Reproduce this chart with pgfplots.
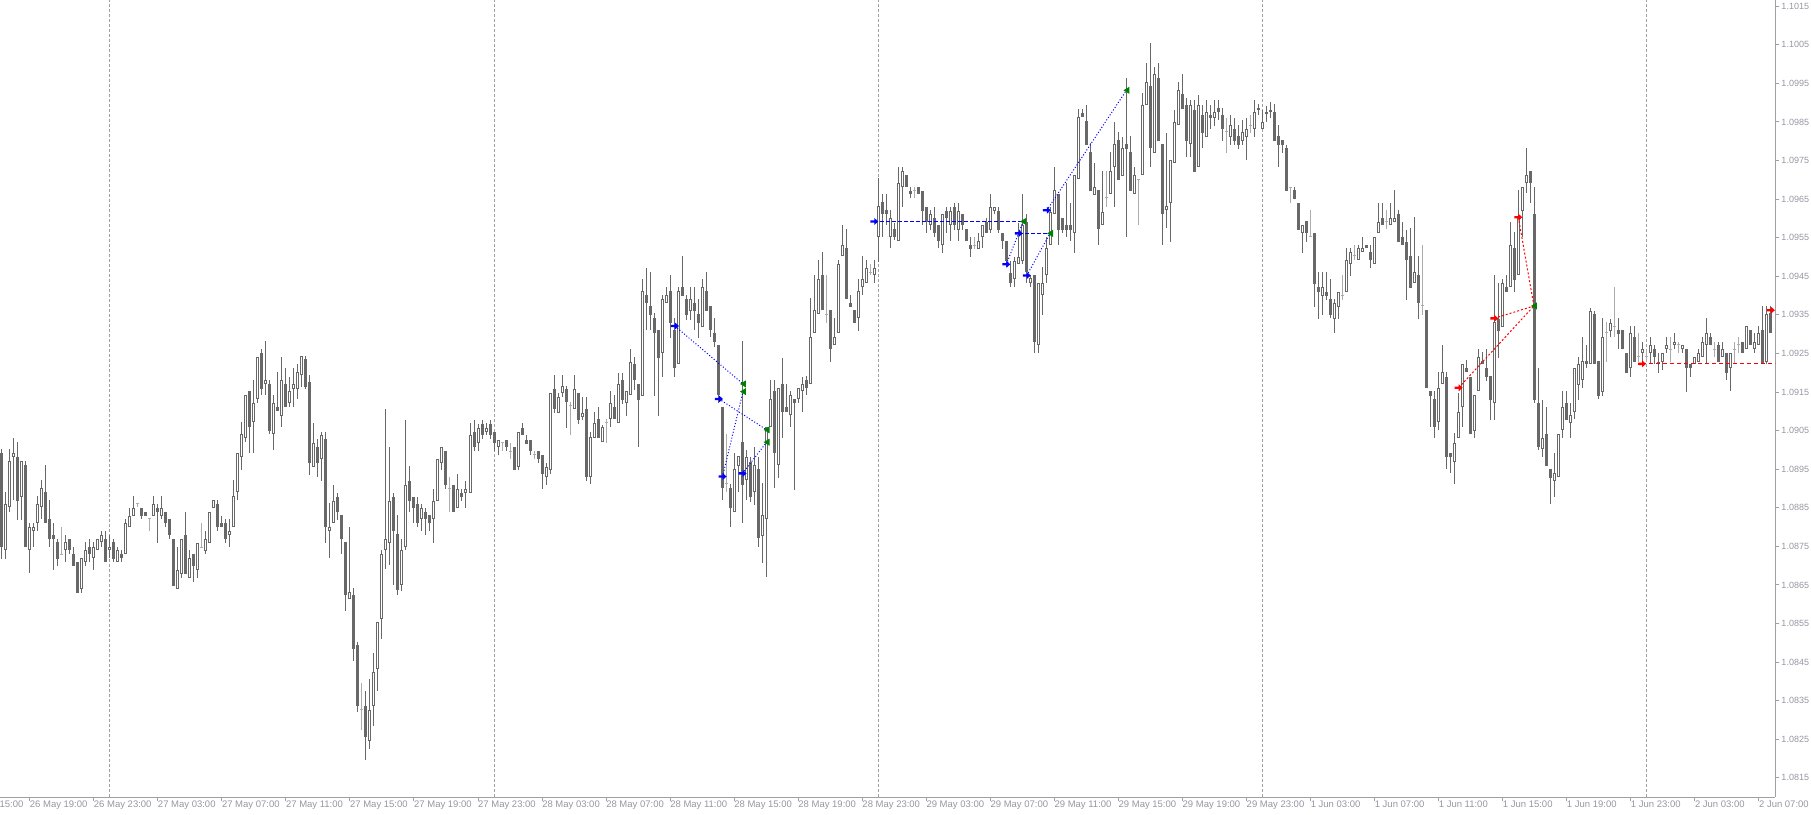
\documentclass[border=0pt]{standalone}
\usepackage{fontspec}
\setmainfont{Liberation Sans}
\usepackage{pgfplots}
\usepackage{pgfplotstable}
\pgfplotsset{compat=1.18}
\definecolor{cdark}{RGB}{104,104,104}
\definecolor{clight}{RGB}{172,172,172}
\definecolor{axgray}{RGB}{160,160,160}
\definecolor{lblgray}{RGB}{150,150,162}
\definecolor{mtblue}{RGB}{0,0,255}
\definecolor{mtgreen}{RGB}{0,128,0}
\definecolor{mtred}{RGB}{255,0,0}

\pgfdeclareplotmark{buyarrow}{%
  \pgfpathmoveto{\pgfpoint{-4pt}{1.2pt}}%
  \pgfpathlineto{\pgfpoint{0pt}{1.2pt}}%
  \pgfpathlineto{\pgfpoint{0pt}{3.5pt}}%
  \pgfpathlineto{\pgfpoint{4pt}{0pt}}%
  \pgfpathlineto{\pgfpoint{0pt}{-3.5pt}}%
  \pgfpathlineto{\pgfpoint{0pt}{-1.2pt}}%
  \pgfpathlineto{\pgfpoint{-4pt}{-1.2pt}}%
  \pgfpathclose\pgfusepathqfill}
\pgfdeclareplotmark{closetri}{%
  \pgfpathmoveto{\pgfpoint{-3pt}{0pt}}%
  \pgfpathlineto{\pgfpoint{3pt}{3.6pt}}%
  \pgfpathlineto{\pgfpoint{3pt}{-3.6pt}}%
  \pgfpathclose\pgfusepathqfill}

\pgfplotsset{
  candlebar/.style 2 args={draw=none, mark=none, forget plot,
    error bars/.cd, y dir=plus, y explicit, error mark=none,
    error bar style={solid, draw=#1, line width=#2}, /pgfplots/.cd},
}

\pgfplotstableread{
k t O H L C
0 -1 1.08992 1.09002 1.08717 1.08748
1 1 1.08741 1.08891 1.08717 1.08860
2 1 1.08852 1.09002 1.08839 1.08971
3 1 1.08982 1.09031 1.08870 1.08992
4 -1 1.08982 1.09020 1.08818 1.08868
5 1 1.08878 1.08971 1.08818 1.08971
6 -1 1.08961 1.08971 1.08748 1.08748
7 1 1.08741 1.08811 1.08681 1.08800
8 1 1.08790 1.08811 1.08748 1.08800
9 1 1.08811 1.08881 1.08790 1.08860
10 1 1.08852 1.08922 1.08821 1.08901
11 -1 1.08891 1.08961 1.08811 1.08811
12 -1 1.08821 1.08870 1.08748 1.08769
13 -1 1.08779 1.08811 1.08689 1.08769
14 -1 1.08761 1.08769 1.08699 1.08717
15 0 1.08730 1.08800 1.08730 1.08730
16 1 1.08741 1.08779 1.08709 1.08761
17 -1 1.08769 1.08769 1.08730 1.08741
18 -1 1.08730 1.08748 1.08699 1.08699
19 -1 1.08709 1.08709 1.08629 1.08629
20 1 1.08639 1.08720 1.08629 1.08720
21 1 1.08709 1.08761 1.08699 1.08741
22 -1 1.08748 1.08769 1.08709 1.08730
23 1 1.08720 1.08761 1.08689 1.08748
24 1 1.08741 1.08769 1.08741 1.08769
25 1 1.08761 1.08790 1.08748 1.08779
26 -1 1.08769 1.08790 1.08709 1.08709
27 1 1.08741 1.08779 1.08720 1.08748
28 -1 1.08761 1.08769 1.08709 1.08717
29 1 1.08709 1.08748 1.08709 1.08741
30 -1 1.08730 1.08741 1.08709 1.08720
31 1 1.08730 1.08821 1.08730 1.08811
32 1 1.08800 1.08849 1.08800 1.08829
33 1 1.08829 1.08881 1.08829 1.08849
34 0 1.08860 1.08860 1.08852 1.08860
35 -1 1.08849 1.08849 1.08821 1.08829
36 -1 1.08839 1.08839 1.08829 1.08829
37 0 1.08821 1.08821 1.08790 1.08821
38 1 1.08829 1.08881 1.08829 1.08860
39 -1 1.08849 1.08860 1.08759 1.08839
40 1 1.08829 1.08881 1.08821 1.08849
41 -1 1.08839 1.08839 1.08800 1.08811
42 -1 1.08821 1.08821 1.08769 1.08779
43 -1 1.08769 1.08769 1.08647 1.08647
44 1 1.08639 1.08748 1.08639 1.08689
45 1 1.08678 1.08769 1.08668 1.08769
46 -1 1.08779 1.08839 1.08678 1.08678
47 1 1.08668 1.08741 1.08668 1.08720
48 -1 1.08730 1.08730 1.08658 1.08699
49 1 1.08689 1.08759 1.08668 1.08759
50 0 1.08748 1.08811 1.08748 1.08748
51 1 1.08738 1.08790 1.08730 1.08769
52 1 1.08759 1.08839 1.08759 1.08839
53 1 1.08849 1.08870 1.08849 1.08870
54 -1 1.08860 1.08870 1.08790 1.08800
55 -1 1.08811 1.08829 1.08800 1.08800
56 -1 1.08811 1.08821 1.08759 1.08769
57 1 1.08779 1.08821 1.08748 1.08790
58 1 1.08800 1.08922 1.08800 1.08881
59 1 1.08891 1.08992 1.08870 1.08992
60 1 1.08982 1.09072 1.08948 1.09041
61 1 1.09031 1.09142 1.09020 1.09142
62 -1 1.09153 1.09153 1.08992 1.09059
63 1 1.09072 1.09181 1.08992 1.09122
64 1 1.09132 1.09241 1.09122 1.09241
65 -1 1.09251 1.09261 1.09142 1.09158
66 1 1.09171 1.09282 1.09142 1.09181
67 -1 1.09171 1.09181 1.09041 1.09049
68 1 1.09041 1.09142 1.09000 1.09122
69 -1 1.09111 1.09202 1.09101 1.09101
70 1 1.09088 1.09241 1.09059 1.09181
71 -1 1.09171 1.09212 1.09111 1.09111
72 1 1.09122 1.09189 1.09111 1.09153
73 1 1.09158 1.09212 1.09111 1.09171
74 1 1.09158 1.09223 1.09132 1.09202
75 1 1.09194 1.09243 1.09163 1.09243
76 -1 1.09236 1.09243 1.09158 1.09163
77 -1 1.09176 1.09194 1.08935 1.08966
78 1 1.08956 1.09070 1.08956 1.09018
79 -1 1.09008 1.09028 1.08930 1.08966
80 1 1.08976 1.09046 1.08919 1.09039
81 -1 1.09028 1.09046 1.08759 1.08800
82 1 1.08790 1.08862 1.08720 1.08800
83 1 1.08811 1.08909 1.08811 1.08868
84 -1 1.08878 1.08888 1.08818 1.08839
85 -1 1.08831 1.08831 1.08730 1.08769
86 -1 1.08761 1.08761 1.08582 1.08624
87 1 1.08614 1.08800 1.08614 1.08632
88 -1 1.08624 1.08642 1.08453 1.08484
89 -1 1.08494 1.08502 1.08321 1.08336
90 0 1.08326 1.08396 1.08274 1.08326
91 -1 1.08336 1.08375 1.08196 1.08256
92 1 1.08246 1.08406 1.08225 1.08326
93 1 1.08336 1.08474 1.08284 1.08424
94 1 1.08432 1.08554 1.08375 1.08554
95 1 1.08562 1.08741 1.08510 1.08730
96 1 1.08741 1.09106 1.08691 1.08769
97 1 1.08759 1.09008 1.08702 1.08868
98 -1 1.08878 1.08888 1.08650 1.08790
99 -1 1.08782 1.08831 1.08624 1.08637
100 1 1.08650 1.08769 1.08634 1.08741
101 1 1.08748 1.09077 1.08741 1.08909
102 -1 1.08919 1.08958 1.08839 1.08868
103 -1 1.08878 1.08878 1.08811 1.08849
104 -1 1.08860 1.08878 1.08800 1.08811
105 1 1.08821 1.08860 1.08790 1.08849
106 -1 1.08839 1.08849 1.08779 1.08821
107 -1 1.08831 1.08831 1.08790 1.08811
108 1 1.08821 1.08899 1.08759 1.08868
109 1 1.08868 1.08976 1.08868 1.08976
110 1 1.08966 1.09008 1.08948 1.09008
111 -1 1.08997 1.08997 1.08899 1.08909
112 0 1.08899 1.08930 1.08839 1.08899
113 -1 1.08909 1.08909 1.08839 1.08839
114 1 1.08849 1.08938 1.08849 1.08899
115 -1 1.08888 1.08899 1.08868 1.08878
116 1 1.08888 1.08919 1.08849 1.08899
117 1 1.08888 1.09070 1.08888 1.09039
118 -1 1.09046 1.09077 1.08997 1.09008
119 1 1.09018 1.09067 1.08997 1.09057
120 -1 1.09067 1.09077 1.09028 1.09039
121 1 1.09046 1.09070 1.09039 1.09057
122 -1 1.09067 1.09077 1.09028 1.09039
123 -1 1.09046 1.09046 1.08997 1.09018
124 1 1.09008 1.09026 1.08987 1.09026
125 0 1.09018 1.09018 1.08997 1.09018
126 -1 1.09026 1.09026 1.08997 1.09008
127 0 1.08997 1.09018 1.08976 1.08997
128 -1 1.09008 1.09008 1.08948 1.08948
129 1 1.08956 1.09046 1.08948 1.09046
130 -1 1.09057 1.09070 1.09039 1.09039
131 -1 1.09026 1.09039 1.09015 1.09015
132 -1 1.09026 1.09026 1.08987 1.08997
133 0 1.08987 1.08997 1.08976 1.08987
134 -1 1.08997 1.08997 1.08966 1.08976
135 -1 1.08987 1.08987 1.08899 1.08938
136 1 1.08930 1.08966 1.08909 1.08956
137 1 1.08948 1.09147 1.08938 1.09147
138 -1 1.09158 1.09194 1.09096 1.09106
139 1 1.09096 1.09147 1.09096 1.09137
140 1 1.09147 1.09194 1.09137 1.09166
141 -1 1.09158 1.09166 1.09057 1.09124
142 0 1.09116 1.09124 1.09039 1.09116
143 1 1.09106 1.09194 1.09106 1.09158
144 -1 1.09147 1.09147 1.09067 1.09077
145 1 1.09085 1.09137 1.09077 1.09096
146 -1 1.09106 1.09137 1.08919 1.08930
147 1 1.08930 1.09046 1.08912 1.09033
148 1 1.09031 1.09098 1.09031 1.09070
149 -1 1.09080 1.09111 1.09031 1.09031
150 1 1.09020 1.09065 1.09020 1.09059
151 0 1.09070 1.09080 1.09018 1.09070
152 1 1.09080 1.09153 1.09059 1.09122
153 -1 1.09111 1.09142 1.09080 1.09080
154 1 1.09070 1.09199 1.09070 1.09171
155 -1 1.09181 1.09199 1.09119 1.09129
156 1 1.09122 1.09153 1.09088 1.09153
157 1 1.09142 1.09261 1.09142 1.09228
158 -1 1.09223 1.09241 1.09155 1.09181
159 -1 1.09171 1.09171 1.09008 1.09129
160 1 1.09140 1.09443 1.09140 1.09412
161 -1 1.09401 1.09471 1.09311 1.09381
162 -1 1.09373 1.09461 1.09311 1.09350
163 -1 1.09342 1.09355 1.09140 1.09303
164 -1 1.09311 1.09311 1.09088 1.09238
165 1 1.09251 1.09401 1.09189 1.09391
166 1 1.09381 1.09422 1.09381 1.09401
167 -1 1.09412 1.09453 1.09290 1.09329
168 -1 1.09311 1.09342 1.09189 1.09212
169 1 1.09223 1.09422 1.09223 1.09412
170 -1 1.09422 1.09503 1.09399 1.09399
171 -1 1.09391 1.09401 1.09337 1.09350
172 1 1.09360 1.09422 1.09337 1.09391
173 -1 1.09381 1.09422 1.09311 1.09360
174 -1 1.09352 1.09391 1.09290 1.09329
175 1 1.09319 1.09443 1.09319 1.09422
176 -1 1.09412 1.09461 1.09360 1.09360
177 -1 1.09373 1.09373 1.09293 1.09311
178 -1 1.09303 1.09342 1.09267 1.09280
179 -1 1.09272 1.09272 1.09122 1.09142
180 -1 1.09111 1.09111 1.08870 1.08901
181 0 1.08912 1.09041 1.08891 1.08912
182 -1 1.08901 1.08912 1.08800 1.08849
183 1 1.08839 1.08992 1.08839 1.08950
184 1 1.08958 1.08984 1.08891 1.08984
185 -1 1.09020 1.09282 1.08811 1.08909
186 1 1.08922 1.09000 1.08870 1.08982
187 -1 1.08969 1.08982 1.08865 1.08878
188 1 1.08891 1.09008 1.08857 1.08961
189 -1 1.08950 1.08982 1.08748 1.08772
190 1 1.08777 1.08914 1.08707 1.08831
191 1 1.08821 1.09059 1.08671 1.09059
192 1 1.09059 1.09181 1.09059 1.09132
193 -1 1.09153 1.09181 1.08901 1.08992
194 1 1.08961 1.09160 1.08927 1.09160
195 -1 1.09171 1.09238 1.09031 1.09098
196 -1 1.09111 1.09171 1.09098 1.09098
197 1 1.09090 1.09153 1.09059 1.09142
198 -1 1.09132 1.09132 1.08896 1.09122
199 1 1.09132 1.09160 1.09122 1.09160
200 1 1.09153 1.09189 1.09098 1.09171
201 -1 1.09181 1.09192 1.09142 1.09160
202 1 1.09171 1.09394 1.09171 1.09293
203 1 1.09303 1.09453 1.09303 1.09363
204 1 1.09352 1.09492 1.09352 1.09443
205 -1 1.09453 1.09513 1.09363 1.09363
206 0 1.09352 1.09453 1.09329 1.09352
207 -1 1.09363 1.09363 1.09228 1.09261
208 1 1.09272 1.09342 1.09272 1.09293
209 1 1.09303 1.09492 1.09303 1.09482
210 1 1.09503 1.09583 1.09503 1.09531
211 -1 1.09523 1.09572 1.09391 1.09391
212 -1 1.09381 1.09401 1.09370 1.09370
213 -1 1.09363 1.09363 1.09329 1.09329
214 1 1.09342 1.09443 1.09308 1.09412
215 1 1.09422 1.09503 1.09401 1.09443
216 1 1.09433 1.09492 1.09433 1.09471
217 0 1.09461 1.09482 1.09453 1.09461
218 1 1.09453 1.09492 1.09433 1.09471
219 1 1.09552 1.09705 1.09487 1.09632
220 -1 1.09642 1.09663 1.09552 1.09611
221 -1 1.09622 1.09663 1.09583 1.09611
222 1 1.09552 1.09622 1.09523 1.09601
223 -1 1.09572 1.09588 1.09544 1.09552
224 1 1.09541 1.09733 1.09541 1.09692
225 1 1.09681 1.09733 1.09630 1.09723
226 -1 1.09712 1.09712 1.09681 1.09681
227 -1 1.09671 1.09681 1.09653 1.09663
228 0 1.09671 1.09681 1.09653 1.09671
229 -1 1.09681 1.09681 1.09663 1.09663
230 -1 1.09671 1.09671 1.09583 1.09619
231 -1 1.09630 1.09630 1.09562 1.09591
232 1 1.09583 1.09622 1.09570 1.09611
233 -1 1.09601 1.09630 1.09552 1.09562
234 -1 1.09583 1.09583 1.09523 1.09541
235 1 1.09531 1.09611 1.09510 1.09611
236 -1 1.09619 1.09630 1.09562 1.09601
237 1 1.09583 1.09630 1.09541 1.09619
238 -1 1.09630 1.09640 1.09570 1.09583
239 1 1.09570 1.09640 1.09541 1.09619
240 -1 1.09611 1.09611 1.09570 1.09583
241 -1 1.09572 1.09572 1.09541 1.09541
242 -1 1.09531 1.09552 1.09500 1.09521
243 0 1.09531 1.09552 1.09521 1.09531
244 1 1.09521 1.09562 1.09521 1.09541
245 1 1.09552 1.09583 1.09523 1.09583
246 -1 1.09591 1.09601 1.09562 1.09562
247 1 1.09570 1.09663 1.09562 1.09630
248 1 1.09619 1.09630 1.09611 1.09630
249 -1 1.09619 1.09630 1.09562 1.09570
250 -1 1.09562 1.09562 1.09521 1.09541
251 -1 1.09541 1.09541 1.09474 1.09490
252 -1 1.09458 1.09490 1.09422 1.09433
253 1 1.09443 1.09500 1.09422 1.09490
254 1 1.09482 1.09588 1.09482 1.09500
255 1 1.09490 1.09663 1.09482 1.09583
256 -1 1.09591 1.09611 1.09433 1.09461
257 1 1.09433 1.09453 1.09422 1.09446
258 -1 1.09453 1.09453 1.09251 1.09280
259 1 1.09272 1.09433 1.09251 1.09433
260 1 1.09401 1.09474 1.09350 1.09433
261 1 1.09453 1.09552 1.09433 1.09523
262 1 1.09531 1.09630 1.09531 1.09617
263 1 1.09611 1.09733 1.09611 1.09674
264 -1 1.09663 1.09663 1.09531 1.09570
265 -1 1.09601 1.09601 1.09562 1.09570
266 -1 1.09583 1.09692 1.09552 1.09570
267 -1 1.09583 1.09640 1.09541 1.09570
268 1 1.09562 1.09712 1.09510 1.09712
269 1 1.09702 1.09884 1.09702 1.09863
270 -1 1.09873 1.09884 1.09863 1.09863
271 -1 1.09852 1.09894 1.09790 1.09790
272 -1 1.09772 1.09795 1.09671 1.09671
273 1 1.09661 1.09744 1.09661 1.09681
274 -1 1.09674 1.09674 1.09531 1.09572
275 1 1.09583 1.09723 1.09583 1.09617
276 0 1.09653 1.09723 1.09630 1.09653
277 1 1.09663 1.09772 1.09663 1.09723
278 1 1.09733 1.09850 1.09630 1.09793
279 -1 1.09803 1.09824 1.09699 1.09699
280 1 1.09710 1.09811 1.09710 1.09782
281 -1 1.09793 1.09964 1.09552 1.09780
282 -1 1.09772 1.09814 1.09671 1.09671
283 1 1.09663 1.09733 1.09663 1.09712
284 0 1.09702 1.09702 1.09583 1.09702
285 1 1.09712 1.09925 1.09712 1.09894
286 1 1.09894 1.10003 1.09894 1.09953
287 -1 1.09943 1.10055 1.09733 1.09782
288 1 1.09769 1.09992 1.09769 1.09974
289 -1 1.09964 1.10003 1.09801 1.09801
290 -1 1.09793 1.09793 1.09531 1.09611
291 1 1.09622 1.09821 1.09575 1.09632
292 1 1.09640 1.09751 1.09539 1.09751
293 1 1.09744 1.09881 1.09744 1.09850
294 1 1.09842 1.09953 1.09842 1.09933
295 -1 1.09922 1.09974 1.09884 1.09884
296 -1 1.09894 1.09912 1.09759 1.09801
297 1 1.09793 1.09907 1.09759 1.09894
298 -1 1.09881 1.09907 1.09720 1.09720
299 1 1.09733 1.09920 1.09733 1.09894
300 -1 1.09868 1.09894 1.09782 1.09821
301 1 1.09811 1.09907 1.09811 1.09876
302 -1 1.09868 1.09894 1.09832 1.09860
303 1 1.09860 1.09907 1.09839 1.09876
304 -1 1.09886 1.09907 1.09855 1.09876
305 -1 1.09868 1.09886 1.09801 1.09832
306 0 1.09824 1.09860 1.09769 1.09824
307 1 1.09811 1.09868 1.09790 1.09842
308 -1 1.09832 1.09860 1.09790 1.09801
309 -1 1.09814 1.09842 1.09780 1.09790
310 1 1.09801 1.09855 1.09790 1.09824
311 1 1.09811 1.09860 1.09751 1.09832
312 0 1.09842 1.09868 1.09821 1.09842
313 1 1.09832 1.09907 1.09811 1.09876
314 1 1.09881 1.09896 1.09868 1.09886
315 1 1.09832 1.09881 1.09832 1.09850
316 -1 1.09876 1.09891 1.09850 1.09871
317 -1 1.09881 1.09902 1.09860 1.09876
318 -1 1.09876 1.09896 1.09801 1.09801
319 -1 1.09814 1.09842 1.09733 1.09790
320 -1 1.09803 1.09803 1.09769 1.09790
321 -1 1.09782 1.09790 1.09671 1.09671
322 0 1.09679 1.09679 1.09640 1.09679
323 -1 1.09674 1.09681 1.09650 1.09650
324 -1 1.09640 1.09640 1.09570 1.09570
325 1 1.09562 1.09583 1.09510 1.09583
326 -1 1.09593 1.09593 1.09539 1.09562
327 0 1.09552 1.09622 1.09552 1.09552
328 -1 1.09562 1.09562 1.09370 1.09430
329 -1 1.09422 1.09461 1.09339 1.09409
330 1 1.09399 1.09461 1.09350 1.09422
331 -1 1.09409 1.09461 1.09388 1.09399
332 -1 1.09391 1.09443 1.09342 1.09350
333 1 1.09339 1.09391 1.09303 1.09381
334 1 1.09370 1.09409 1.09339 1.09409
335 0 1.09401 1.09453 1.09388 1.09401
336 1 1.09409 1.09523 1.09409 1.09492
337 1 1.09482 1.09523 1.09451 1.09513
338 0 1.09503 1.09531 1.09492 1.09503
339 1 1.09492 1.09531 1.09492 1.09523
340 1 1.09513 1.09552 1.09513 1.09523
341 -1 1.09531 1.09531 1.09523 1.09523
342 -1 1.09513 1.09531 1.09471 1.09492
343 1 1.09482 1.09552 1.09482 1.09552
344 1 1.09562 1.09640 1.09562 1.09591
345 -1 1.09601 1.09640 1.09583 1.09583
346 0 1.09591 1.09622 1.09572 1.09591
347 1 1.09583 1.09640 1.09583 1.09601
348 1 1.09591 1.09674 1.09591 1.09601
349 -1 1.09611 1.09622 1.09539 1.09539
350 -1 1.09552 1.09591 1.09531 1.09531
351 -1 1.09539 1.09570 1.09388 1.09492
352 -1 1.09503 1.09575 1.09420 1.09420
353 1 1.09433 1.09604 1.09433 1.09461
354 -1 1.09453 1.09503 1.09339 1.09381
355 0 1.09373 1.09531 1.09350 1.09373
356 -1 1.09363 1.09363 1.09160 1.09160
357 -1 1.09153 1.09153 1.09059 1.09140
358 -1 1.09132 1.09153 1.09031 1.09059
359 1 1.09072 1.09202 1.09052 1.09160
360 1 1.09171 1.09272 1.09171 1.09202
361 -1 1.09189 1.09202 1.08950 1.08982
362 -1 1.08992 1.08992 1.08940 1.08982
363 1 1.08969 1.09044 1.08912 1.09018
364 1 1.09031 1.09147 1.09031 1.09098
365 1 1.09111 1.09223 1.09059 1.09223
366 -1 1.09212 1.09233 1.09202 1.09202
367 -1 1.09189 1.09189 1.09041 1.09041
368 1 1.09049 1.09142 1.09031 1.09142
369 1 1.09153 1.09261 1.09153 1.09241
370 -1 1.09230 1.09254 1.09223 1.09223
371 -1 1.09212 1.09261 1.09179 1.09189
372 -1 1.09192 1.09192 1.09077 1.09129
373 1 1.09122 1.09453 1.09077 1.09331
374 -1 1.09339 1.09433 1.09238 1.09308
375 1 1.09319 1.09443 1.09319 1.09433
376 -1 1.09422 1.09453 1.09409 1.09409
377 1 1.09422 1.09591 1.09422 1.09531
378 -1 1.09523 1.09565 1.09409 1.09440
379 1 1.09453 1.09674 1.09453 1.09601
380 1 1.09619 1.09681 1.09552 1.09681
381 1 1.09692 1.09782 1.09666 1.09712
382 -1 1.09723 1.09723 1.09640 1.09692
383 -1 1.09611 1.09681 1.09122 1.09129
384 -1 1.09122 1.09212 1.09000 1.09008
385 1 1.09002 1.09129 1.08982 1.09031
386 -1 1.09041 1.09111 1.08958 1.08958
387 -1 1.08950 1.08950 1.08860 1.08927
388 1 1.08919 1.08992 1.08878 1.08940
389 1 1.08930 1.09041 1.08930 1.09041
390 1 1.09052 1.09153 1.09031 1.09111
391 -1 1.09122 1.09153 1.09077 1.09077
392 1 1.09070 1.09122 1.09031 1.09090
393 1 1.09098 1.09212 1.09080 1.09212
394 1 1.09168 1.09241 1.09129 1.09223
395 1 1.09181 1.09293 1.09160 1.09230
396 -1 1.09230 1.09272 1.09212 1.09223
397 1 1.09223 1.09368 1.09223 1.09360
398 -1 1.09352 1.09360 1.09223 1.09223
399 -1 1.09230 1.09230 1.09132 1.09140
400 1 1.09150 1.09342 1.09140 1.09293
401 0 1.09303 1.09331 1.09228 1.09303
402 1 1.09308 1.09339 1.09293 1.09329
403 0 1.09321 1.09422 1.09293 1.09321
404 -1 1.09311 1.09342 1.09261 1.09300
405 -1 1.09311 1.09311 1.09261 1.09261
406 -1 1.09251 1.09251 1.09199 1.09199
407 1 1.09212 1.09321 1.09189 1.09303
408 -1 1.09293 1.09321 1.09228 1.09228
409 0 1.09241 1.09303 1.09228 1.09241
410 1 1.09251 1.09280 1.09228 1.09261
411 0 1.09241 1.09259 1.09228 1.09241
412 1 1.09251 1.09293 1.09223 1.09272
413 -1 1.09261 1.09272 1.09223 1.09241
414 -1 1.09228 1.09251 1.09199 1.09223
415 1 1.09228 1.09251 1.09207 1.09251
416 1 1.09261 1.09293 1.09251 1.09272
417 0 1.09261 1.09293 1.09228 1.09261
418 1 1.09272 1.09303 1.09261 1.09280
419 0 1.09272 1.09280 1.09251 1.09272
420 1 1.09261 1.09272 1.09251 1.09272
421 -1 1.09261 1.09261 1.09150 1.09212
422 -1 1.09223 1.09223 1.09189 1.09212
423 1 1.09223 1.09241 1.09223 1.09241
424 1 1.09228 1.09261 1.09228 1.09251
425 1 1.09241 1.09293 1.09241 1.09280
426 1 1.09272 1.09342 1.09223 1.09303
427 -1 1.09293 1.09303 1.09272 1.09272
428 0 1.09261 1.09280 1.09241 1.09261
429 -1 1.09272 1.09280 1.09228 1.09228
430 1 1.09241 1.09280 1.09241 1.09261
431 -1 1.09251 1.09251 1.09181 1.09199
432 1 1.09212 1.09251 1.09153 1.09251
433 0 1.09261 1.09280 1.09223 1.09261
434 0 1.09272 1.09293 1.09251 1.09272
435 -1 1.09280 1.09280 1.09251 1.09251
436 1 1.09261 1.09321 1.09261 1.09321
437 -1 1.09311 1.09311 1.09272 1.09272
438 1 1.09261 1.09303 1.09251 1.09280
439 1 1.09272 1.09321 1.09272 1.09303
440 -1 1.09311 1.09373 1.09223 1.09223
441 1 1.09228 1.09373 1.09223 1.09352
442 -1 1.09355 1.09373 1.09303 1.09303
}\candles

\begin{document}
\begin{tikzpicture}
\useasboundingbox (0,0) rectangle (1811pt,814pt);
\begin{axis}[
  at={(0pt,17pt)}, anchor=south west,
  width=1775.3pt, height=797pt, scale only axis,
  xmin=-0.42, xmax=443.1, ymin=1.081004, ymax=1.10166,
  axis x line=bottom, axis y line=right,
  axis line style={-, draw=axgray, line width=1pt},
  tick style={draw=axgray, line width=1pt},
  tick align=outside, major tick length=4pt,
  scaled y ticks=false, scaled x ticks=false,
  xtick={7,23,39,55,71,87,103,119,135,151,167,183,199,215,231,247,263,279,295,311,327,343,359,375,391,407,423,439},
  xticklabels={26 May 19:00,26 May 23:00,27 May 03:00,27 May 07:00,27 May 11:00,27 May 15:00,27 May 19:00,27 May 23:00,28 May 03:00,28 May 07:00,28 May 11:00,28 May 15:00,28 May 19:00,28 May 23:00,29 May 03:00,29 May 07:00,29 May 11:00,29 May 15:00,29 May 19:00,29 May 23:00,1 Jun 03:00,1 Jun 07:00,1 Jun 11:00,1 Jun 15:00,1 Jun 19:00,1 Jun 23:00,2 Jun 03:00,2 Jun 07:00},
  ytick={1.0815,1.0825,1.0835,1.0845,1.0855,1.0865,1.0875,1.0885,1.0895,1.0905,1.0915,1.0925,1.0935,1.0945,1.0955,1.0965,1.0975,1.0985,1.0995,1.1005,1.1015},
  yticklabels={1.0815,1.0825,1.0835,1.0845,1.0855,1.0865,1.0875,1.0885,1.0895,1.0905,1.0915,1.0925,1.0935,1.0945,1.0955,1.0965,1.0975,1.0985,1.0995,1.1005,1.1015},
  xticklabel style={anchor=north west, inner sep=0pt, font=\fontsize{9.5}{10}\selectfont, text=lblgray},
  yticklabel style={anchor=west, inner sep=0pt, xshift=2pt, font=\fontsize{9}{10}\selectfont, text=lblgray},
]
\pgfplotsinvokeforeach{27,123,219,315,411}{%
  \draw[axgray, line width=1pt, dash pattern=on 3pt off 2pt] (axis cs:#1,1.081004) -- (axis cs:#1,1.10166);
}
% wicks
\addplot[restrict expr to domain={abs(\thisrow{t})}{0.5:1.5}, candlebar={cdark}{1pt}]
  table[x=k, y=L, y error plus expr={\thisrow{H}-\thisrow{L}}] {\candles};
% bear bodies
\addplot[restrict expr to domain={\thisrow{t}}{-1.5:-0.5}, candlebar={cdark}{3pt}]
  table[x=k, y=C, y error plus expr={\thisrow{O}-\thisrow{C}}] {\candles};
% bull bodies
\addplot[restrict expr to domain={\thisrow{t}}{0.5:1.5}, candlebar={cdark}{3pt}]
  table[x=k, y=O, y error plus expr={\thisrow{C}-\thisrow{O}}] {\candles};
\addplot[restrict expr to domain={\thisrow{t}}{0.5:1.5}, candlebar={white}{1pt}]
  table[x=k, y expr={\thisrow{O}+0.0000259}, y error plus expr={max(\thisrow{C}-\thisrow{O}-0.0000518,0)}] {\candles};
% doji
\addplot[restrict expr to domain={\thisrow{t}}{-0.5:0.5}, candlebar={clight}{1pt}]
  table[x=k, y=L, y error plus expr={\thisrow{H}-\thisrow{L}}] {\candles};
\addplot[only marks, mark=-, mark size=1.5pt, mark options={draw=clight, line width=1pt},
  restrict expr to domain={\thisrow{t}}{-0.5:0.5}]
  table[x=k, y=O] {\candles};
% trade lines (blue)
\addplot[mtblue, line width=1pt, dash pattern=on 1pt off 2pt] coordinates {(168.2,1.09321) (185.2,1.09171)};
\addplot[mtblue, line width=1pt, dash pattern=on 1pt off 2pt] coordinates {(179.2,1.09132) (191.1,1.09052)};
\addplot[mtblue, line width=1pt, dash pattern=on 1pt off 2pt] coordinates {(180.1,1.08931) (185.2,1.09151)};
\addplot[mtblue, line width=1pt, dash pattern=on 1pt off 2pt] coordinates {(185.1,1.08939) (191.1,1.09020)};
\addplot[mtblue, line width=1pt, dash pattern=on 4pt off 2pt] coordinates {(218.0,1.09592) (255.2,1.09592)};
\addplot[mtblue, line width=1pt, dash pattern=on 1pt off 2pt] coordinates {(251.0,1.09481) (255.2,1.09592)};
\addplot[mtblue, line width=1pt, dash pattern=on 4pt off 2pt] coordinates {(254.1,1.09561) (261.9,1.09561)};
\addplot[mtblue, line width=1pt, dash pattern=on 1pt off 2pt] coordinates {(256.1,1.09452) (261.9,1.09561)};
\addplot[mtblue, line width=1pt, dash pattern=on 1pt off 2pt] coordinates {(261.1,1.09621) (281.0,1.09932)};
% trade lines (red)
\addplot[mtred, line width=1pt, dash pattern=on 2pt off 2pt] coordinates {(364.0,1.09161) (382.8,1.09373)};
\addplot[mtred, line width=1pt, dash pattern=on 2pt off 2pt] coordinates {(372.9,1.09341) (382.8,1.09373)};
\addplot[mtred, line width=1pt, dash pattern=on 2pt off 2pt] coordinates {(378.9,1.09603) (382.8,1.09373)};
\addplot[mtred, line width=1pt, dash pattern=on 4pt off 3pt] coordinates {(409.8,1.09223) (443.1,1.09223)};
% markers
\addplot[only marks, mark=buyarrow, color=mtblue] coordinates {(168.2,1.09321) (179.2,1.09132) (180.1,1.08931) (185.1,1.08939) (218.0,1.09592) (251.0,1.09481) (254.1,1.09561) (256.1,1.09452) (261.1,1.09621)};
\addplot[only marks, mark=closetri, color=mtgreen] coordinates {(185.2,1.09171) (191.1,1.09052) (185.2,1.09151) (191.1,1.09020) (255.2,1.09592) (261.9,1.09561) (281.0,1.09932) (382.8,1.09373)};
\addplot[only marks, mark=buyarrow, color=mtred] coordinates {(364.0,1.09161) (372.9,1.09341) (378.9,1.09603) (409.8,1.09223) (442.0,1.09362)};
\coordinate (lbl) at (axis cs:-9,1.081004);
\end{axis}
\node[anchor=north west, inner sep=0pt, font=\fontsize{9.5}{10}\selectfont, text=lblgray] at ([yshift=-4pt]lbl) {26 May 15:00};
\end{tikzpicture}
\end{document}
